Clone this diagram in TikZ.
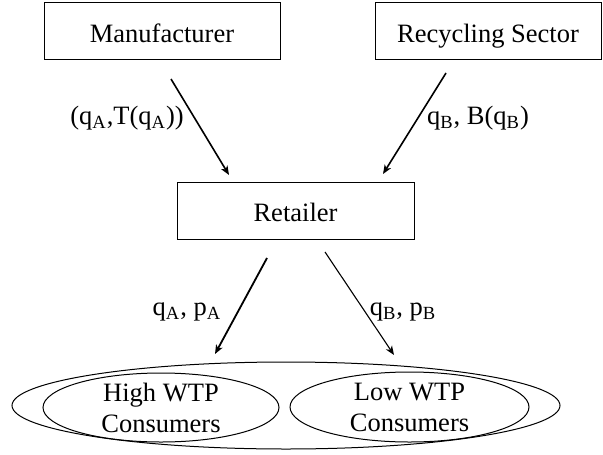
\documentclass[tikz,border=0pt]{standalone}
\usepackage{fontspec}
\setmainfont{Liberation Serif}
\usetikzlibrary{arrows.meta,shapes.geometric}
\begin{document}
\begin{tikzpicture}[x=0.5pt,y=-0.5pt,
  every node/.style={font=\fontsize{13.25pt}{15.5pt}\selectfont},
  box/.style={draw,line width=0.5pt,inner sep=0pt,minimum height=28.5pt,text height=11.2pt,text depth=0pt},
  ell/.style={draw,ellipse,line width=0.5pt,inner sep=0pt},
  lbl/.style={inner sep=0pt,align=center},
  flow/.style={line width=0.8pt,-{Stealth[length=4.5pt,width=3.6pt,inset=1.2pt]}}]
\useasboundingbox (0,0) rectangle (603,454);
% boxes
\node[box,minimum width=118pt] (man) at (162,31.5) {Manufacturer};
\node[box,minimum width=113pt] (rec) at (488,31.5) {Recycling Sector};
\node[box,minimum width=118.5pt] (ret) at (295.5,210.5) {Retailer};
% ellipses
\node[ell,minimum width=274pt,minimum height=43.5pt] (all) at (286,405.5) {};
\node[ell,minimum width=118pt,minimum height=34.5pt] (high) at (161,407.5) {};
\node[ell,minimum width=119.5pt,minimum height=35pt] (low) at (409.5,407) {};
\node[lbl] (hight) at (high) {High WTP\\Consumers};
\node[lbl] (lowt) at (low) {Low WTP\\Consumers};
% connector end points
\coordinate (m1) at (171,79);
\coordinate (m2) at (229,175);
\coordinate (r1) at (446,73);
\coordinate (r2) at (383,174);
\coordinate (a1) at (267,258);
\coordinate (a2) at (215,354);
\coordinate (b1) at (325,252);
\coordinate (b2) at (394,355);
\draw[flow] (m1) -- (m2);
\draw[flow] (r1) -- (r2);
\draw[flow,line width=0.9pt] (a1) -- (a2);
\draw[flow,line width=0.55pt] (b1) -- (b2);
% labels
\node[lbl] (la) at (127,118) {(q\textsubscript{A},T(q\textsubscript{A}))};
\node[lbl] (lb) at (478,118) {q\textsubscript{B}, B(q\textsubscript{B})};
\node[lbl] (lc) at (187,312) {q\textsubscript{A}, p\textsubscript{A}};
\node[lbl] (ld) at (403,312) {q\textsubscript{B}, p\textsubscript{B}};
\end{tikzpicture}
\end{document}
